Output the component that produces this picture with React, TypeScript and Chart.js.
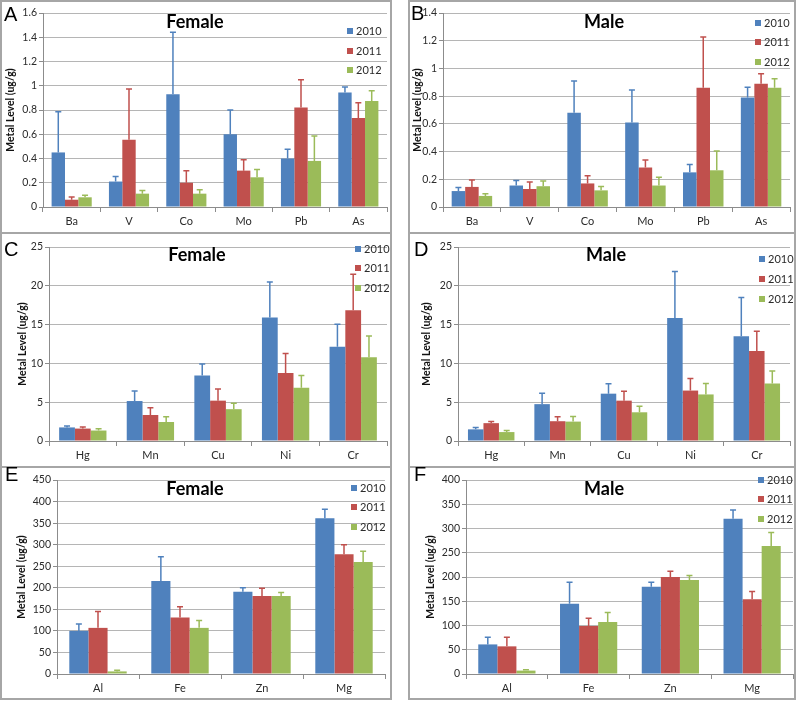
import React, { useEffect, useRef } from 'react';
import { Chart, registerables } from 'chart.js';

Chart.register(...registerables);

const YEARS = ['2010', '2011', '2012'];
const COLORS = ['#4F81BD', '#C0504D', '#9BBB59'];
const Y_TITLE = 'Metal Level (ug/g)';

// ---- categories ----
const catsAB = ['Ba', 'V', 'Co', 'Mo', 'Pb', 'As'];
const catsCD = ['Hg', 'Mn', 'Cu', 'Ni', 'Cr'];
const catsEF = ['Al', 'Fe', 'Zn', 'Mg'];

// Panel A: Female
const femA2010 = [0.45, 0.21, 0.93, 0.6, 0.4, 0.945];
const femA2011 = [0.06, 0.555, 0.2, 0.3, 0.82, 0.735];
const femA2012 = [0.08, 0.11, 0.11, 0.245, 0.38, 0.875];
const femAErr2010 = [0.336, 0.042, 0.511, 0.2, 0.077, 0.045];
const femAErr2011 = [0.022, 0.418, 0.1, 0.09, 0.229, 0.125];
const femAErr2012 = [0.016, 0.027, 0.032, 0.065, 0.206, 0.084];
const ticksA = ['0', '0.2', '0.4', '0.6', '0.8', '1', '1.2', '1.4', '1.6'];

// Panel B: Male
const maleB2010 = [0.115, 0.155, 0.68, 0.61, 0.25, 0.79];
const maleB2011 = [0.145, 0.13, 0.17, 0.285, 0.86, 0.89];
const maleB2012 = [0.08, 0.15, 0.12, 0.155, 0.265, 0.86];
const maleBErr2010 = [0.026, 0.037, 0.23, 0.234, 0.057, 0.075];
const maleBErr2011 = [0.05, 0.05, 0.055, 0.055, 0.367, 0.072];
const maleBErr2012 = [0.015, 0.037, 0.028, 0.06, 0.14, 0.065];
const ticksB = ['0', '0.2', '0.4', '0.6', '0.8', '1', '1.2', '1.4'];

// Panel C: Female
const femC2010 = [1.75, 5.15, 8.45, 15.9, 12.15];
const femC2011 = [1.6, 3.35, 5.2, 8.75, 16.85];
const femC2012 = [1.35, 2.45, 4.1, 6.85, 10.8];
const femCErr2010 = [0.17, 1.3, 1.48, 4.58, 2.88];
const femCErr2011 = [0.22, 0.95, 1.5, 2.53, 4.65];
const femCErr2012 = [0.22, 0.68, 0.75, 1.58, 2.72];
const ticksCD = ['0', '5', '10', '15', '20', '25'];

// Panel D: Male
const maleD2010 = [1.5, 4.75, 6.1, 15.85, 13.5];
const maleD2011 = [2.3, 2.55, 5.2, 6.5, 11.6];
const maleD2012 = [1.15, 2.5, 3.7, 6.0, 7.4];
const maleDErr2010 = [0.24, 1.4, 1.27, 6.0, 5.0];
const maleDErr2011 = [0.22, 0.57, 1.22, 1.55, 2.55];
const maleDErr2012 = [0.21, 0.66, 0.79, 1.42, 1.62];

// Panel E: Female
const femE2010 = [100, 216, 191, 361];
const femE2011 = [107, 131, 181, 278];
const femE2012 = [6, 107, 181, 260];
const femEErr2010 = [16, 56, 9, 21];
const femEErr2011 = [38, 25, 18, 22];
const femEErr2012 = [2.5, 17, 8, 25];
const ticksE = ['0', '50', '100', '150', '200', '250', '300', '350', '400', '450'];

// Panel F: Male
const maleF2010 = [61, 145, 180, 320];
const maleF2011 = [57, 99, 200, 154];
const maleF2012 = [7, 107, 194, 264];
const maleFErr2010 = [15, 44, 9, 18];
const maleFErr2011 = [19, 16, 12, 16];
const maleFErr2012 = [2, 20, 9, 28];
const ticksF = ['0', '50', '100', '150', '200', '250', '300', '350', '400'];

type PanelSpec = {
  letter: string;
  title: string;
  cats: string[];
  series: number[][];
  errs: number[][];
  yMax: number;
  step: number;
  tickLabels: string[];
  rect: [number, number, number, number];
  area: { left: number; top: number; right: number; bottom: number };
  yTitlePad: number;
  titleAt: [number, number];
  letterAt: [number, number];
  legendX: number;
  legendY: number[];
};

const PANELS: PanelSpec[] = [
  {
    letter: 'A', title: 'Female', cats: catsAB,
    series: [femA2010, femA2011, femA2012], errs: [femAErr2010, femAErr2011, femAErr2012],
    yMax: 1.6, step: 0.2, tickLabels: ticksA,
    rect: [0, 0, 392, 234], area: { left: 43, top: 13, right: 387, bottom: 207 }, yTitlePad: 4,
    titleAt: [195, 22], letterAt: [4, 21], legendX: 347, legendY: [31, 51, 70],
  },
  {
    letter: 'B', title: 'Male', cats: catsAB,
    series: [maleB2010, maleB2011, maleB2012], errs: [maleBErr2010, maleBErr2011, maleBErr2012],
    yMax: 1.4, step: 0.2, tickLabels: ticksB,
    rect: [408, 0, 388, 234], area: { left: 443, top: 13, right: 790, bottom: 207 }, yTitlePad: 3,
    titleAt: [604, 22], letterAt: [411, 20], legendX: 755, legendY: [23, 42, 62],
  },
  {
    letter: 'C', title: 'Female', cats: catsCD,
    series: [femC2010, femC2011, femC2012], errs: [femCErr2010, femCErr2011, femCErr2012],
    yMax: 25, step: 5, tickLabels: ticksCD,
    rect: [0, 232, 392, 236], area: { left: 49, top: 247, right: 387, bottom: 441 }, yTitlePad: 16,
    titleAt: [197, 255], letterAt: [4, 256], legendX: 355, legendY: [249, 268, 288],
  },
  {
    letter: 'D', title: 'Male', cats: catsCD,
    series: [maleD2010, maleD2011, maleD2012], errs: [maleDErr2010, maleDErr2011, maleDErr2012],
    yMax: 25, step: 5, tickLabels: ticksCD,
    rect: [408, 232, 388, 236], area: { left: 458, top: 247, right: 790, bottom: 441 }, yTitlePad: 12,
    titleAt: [606, 255], letterAt: [414, 256], legendX: 759, legendY: [259, 279, 299],
  },
  {
    letter: 'E', title: 'Female', cats: catsEF,
    series: [femE2010, femE2011, femE2012], errs: [femEErr2010, femEErr2011, femEErr2012],
    yMax: 450, step: 50, tickLabels: ticksE,
    rect: [0, 466, 392, 234], area: { left: 57, top: 480, right: 385, bottom: 674 }, yTitlePad: 15,
    titleAt: [195, 489], letterAt: [5, 481], legendX: 351, legendY: [488, 507, 527],
  },
  {
    letter: 'F', title: 'Male', cats: catsEF,
    series: [maleF2010, maleF2011, maleF2012], errs: [maleFErr2010, maleFErr2011, maleFErr2012],
    yMax: 400, step: 50, tickLabels: ticksF,
    rect: [408, 466, 388, 234], area: { left: 466, top: 480, right: 793, bottom: 674 }, yTitlePad: 16,
    titleAt: [604, 489], letterAt: [414, 481], legendX: 758, legendY: [480, 499, 519],
  },
];

const FONT = 'Lato, "Open Sans", sans-serif';
const AXIS_COLOR = '#8c8c8c';
const GRID_COLOR = '#b5b5b5';
const TEXT_COLOR = '#2b2b2b';

function PanelChart({ p }: { p: PanelSpec }) {
  const ref = useRef<HTMLCanvasElement | null>(null);
  const [rx, ry, rw, rh] = p.rect;

  useEffect(() => {
    if (!ref.current) return;
    const errs = p.errs;
    const errorBars = {
      id: 'errorBars' + p.letter,
      afterDatasetsDraw(chart: any) {
        const ctx = chart.ctx;
        const yScale = chart.scales.y;
        chart.data.datasets.forEach((ds: any, di: number) => {
          const meta = chart.getDatasetMeta(di);
          meta.data.forEach((bar: any, j: number) => {
            const v = ds.data[j];
            const top = yScale.getPixelForValue(v + errs[di][j]);
            ctx.save();
            ctx.strokeStyle = COLORS[di];
            ctx.lineWidth = 1.5;
            ctx.beginPath();
            ctx.moveTo(bar.x, bar.y);
            ctx.lineTo(bar.x, top);
            ctx.moveTo(bar.x - 3, top);
            ctx.lineTo(bar.x + 3, top);
            ctx.stroke();
            ctx.restore();
          });
        });
      },
    };
    const overlay = {
      id: 'overlay' + p.letter,
      afterDraw(chart: any) {
        const ctx = chart.ctx;
        ctx.save();
        ctx.fillStyle = '#000';
        ctx.font = '20px "Liberation Sans", Arial, sans-serif';
        ctx.textAlign = 'left';
        ctx.textBaseline = 'alphabetic';
        ctx.fillText(p.letter, p.letterAt[0] - rx, p.letterAt[1] - ry);
        ctx.font = 'bold 18px ' + FONT;
        ctx.textAlign = 'center';
        ctx.textBaseline = 'middle';
        ctx.fillText(p.title, p.titleAt[0] - rx, p.titleAt[1] - ry);
        ctx.font = '11px ' + FONT;
        ctx.textAlign = 'left';
        YEARS.forEach((yr, i) => {
          const lx = p.legendX - rx;
          const ly = p.legendY[i] - ry;
          ctx.fillStyle = COLORS[i];
          ctx.fillRect(lx, ly - 3, 6, 6);
          ctx.fillStyle = TEXT_COLOR;
          ctx.fillText(yr, lx + 9, ly + 0.5);
        });
        ctx.restore();
      },
    };

    const chart = new Chart(ref.current, {
      type: 'bar',
      data: {
        labels: p.cats,
        datasets: YEARS.map((yr, i) => ({
          label: yr,
          data: p.series[i],
          backgroundColor: COLORS[i],
          borderWidth: 0,
          categoryPercentage: 0.7,
          barPercentage: 1.0,
        })),
      },
      options: {
        responsive: false,
        animation: false,
        events: [],
        layout: {
          autoPadding: false,
          padding: { top: p.area.top - ry, right: rx + rw - p.area.right, left: 0, bottom: 0 },
        },
        plugins: {
          legend: { display: false },
          tooltip: { enabled: false },
          title: { display: false },
        },
        scales: {
          x: {
            offset: true,
            grid: { offset: true, drawOnChartArea: false, drawTicks: true, tickLength: 5, color: AXIS_COLOR },
            border: { color: AXIS_COLOR, width: 1 },
            ticks: { font: { family: FONT, size: 11 }, color: TEXT_COLOR, padding: 3, maxRotation: 0, autoSkip: false },
            afterFit: (s: any) => { s.height = ry + rh - p.area.bottom; },
          },
          y: {
            min: 0,
            max: p.yMax,
            ticks: {
              stepSize: p.step,
              font: { family: FONT, size: 10.5 },
              color: TEXT_COLOR,
              padding: 2,
              callback: (v: any) => p.tickLabels[Math.round(Number(v) / p.step)],
            },
            grid: { color: GRID_COLOR, tickLength: 4, tickColor: AXIS_COLOR },
            border: { color: AXIS_COLOR, width: 1 },
            title: {
              display: true,
              text: Y_TITLE,
              font: { family: FONT, size: 10.5, weight: 'bold' },
              color: '#111',
              padding: { top: p.yTitlePad, bottom: 0 },
            },
            afterFit: (s: any) => { s.width = p.area.left - rx; },
          },
        },
      },
      plugins: [errorBars, overlay],
    } as any);
    return () => chart.destroy();
  }, [p]);

  return (
    <>
      <div
        style={{
          position: 'absolute', left: rx, top: ry, width: rw, height: rh,
          border: '2px solid #a6a6a6', boxSizing: 'border-box',
        }}
      />
      <canvas
        ref={ref}
        width={rw}
        height={rh}
        style={{ position: 'absolute', left: rx, top: ry, width: rw, height: rh }}
      />
    </>
  );
}

export default function App() {
  return (
    <div style={{ position: 'fixed', left: 0, top: 0, width: 800, height: 702, background: '#fff', overflow: 'hidden' }}>
      {PANELS.map((p) => (
        <PanelChart key={p.letter} p={p} />
      ))}
    </div>
  );
}
